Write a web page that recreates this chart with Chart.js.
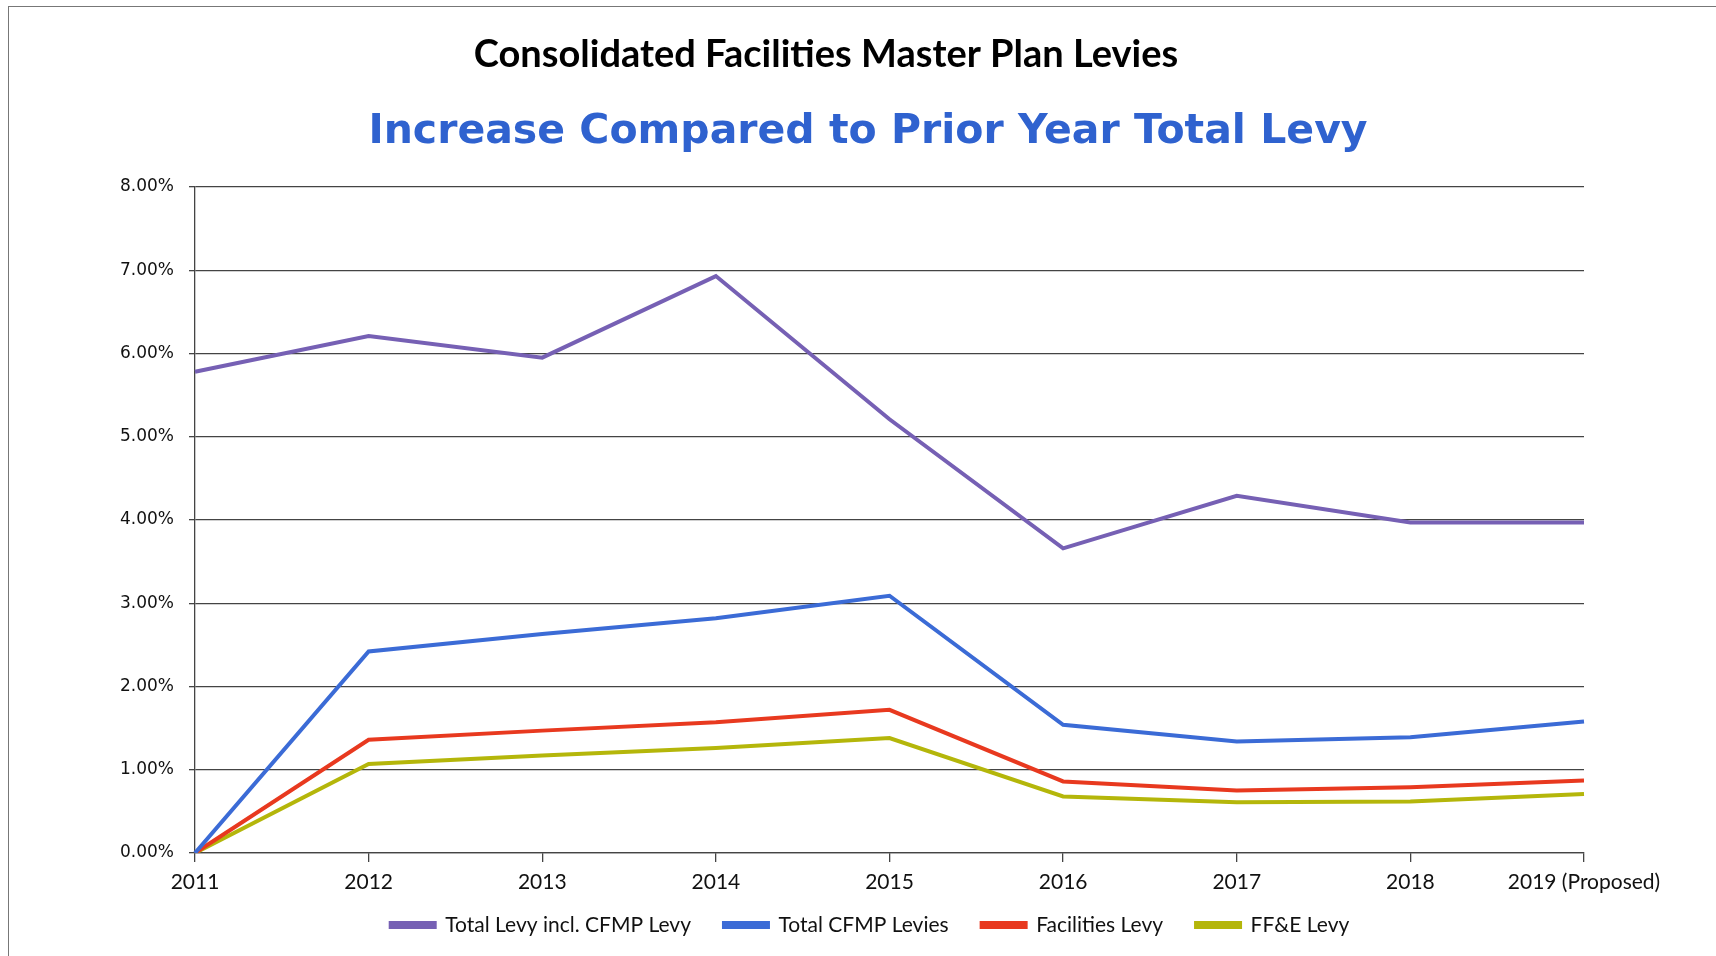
<!DOCTYPE html>
<html>
<head>
<meta charset="utf-8">
<script src="https://cdn.jsdelivr.net/npm/chart.js@4.4.1/dist/chart.umd.min.js"></script>
<style>
  html, body { margin: 0; padding: 0; background: #fff; }
  #wrap { position: relative; width: 1716px; height: 956px; overflow: hidden; }
  #frame { position: absolute; left: 8px; top: 6px; width: 1720px; height: 960px; border: 1.5px solid #777; box-sizing: border-box; pointer-events: none; }
  canvas { position: absolute; left: 0; top: 0; }
</style>
</head>
<body>
<div id="wrap">
  <canvas id="c" width="1716" height="956"></canvas>
  <div id="frame"></div>
</div>
<script>
const categories = ['2011', '2012', '2013', '2014', '2015', '2016', '2017', '2018', '2019 (Proposed)'];
const totalLevyInclCFMP = [5.78, 6.21, 5.95, 6.93, 5.21, 3.66, 4.29, 3.97, 3.97];
const totalCFMPLevies   = [0.00, 2.42, 2.63, 2.82, 3.09, 1.54, 1.34, 1.39, 1.58];
const facilitiesLevy    = [0.00, 1.36, 1.47, 1.57, 1.72, 0.86, 0.75, 0.79, 0.87];
const ffeLevy           = [0.00, 1.07, 1.17, 1.26, 1.38, 0.68, 0.61, 0.62, 0.71];
const seriesNames = ['Total Levy incl. CFMP Levy', 'Total CFMP Levies', 'Facilities Levy', 'FF&E Levy'];
const yTicks = [0, 1, 2, 3, 4, 5, 6, 7, 8];
const titleText = 'Consolidated Facilities Master Plan Levies';
const subtitleText = 'Increase Compared to Prior Year Total Levy';

const colors = ['#7660B4', '#3B6BD6', '#E8391F', '#B4B60A'];
const seriesData = [totalLevyInclCFMP, totalCFMPLevies, facilitiesLevy, ffeLevy];

const datasets = seriesNames.map((n, i) => ({
  label: n,
  data: seriesData[i],
  borderColor: colors[i],
  backgroundColor: colors[i],
  borderWidth: 4,
  pointRadius: 0,
  tension: 0,
  fill: false
}));

// Shift centred layout boxes (titles, legend) to the reference's positions,
// and let the x-axis labels extend below the (thin) x-axis box without clipping.
const boxShift = {
  id: 'boxShift',
  afterLayout(chart, args, opts) {
    const moveX = (box, cx) => {
      const w = box.right - box.left;
      box.left = cx - w / 2;
      box.right = box.left + w;
    };
    chart.boxes.forEach(b => {
      if (b === chart.legend) {
        moveX(b, opts.legendX);
        const h = b.bottom - b.top;
        b.top = opts.legendTop;
        b.bottom = b.top + h;
      }
      else if (b.options && b.options.text === titleText) moveX(b, opts.titleX);
      else if (b.options && b.options.text === subtitleText) moveX(b, opts.subtitleX);
    });
    const x = chart.scales.x;
    x.bottom = x.top + 50;
  }
};

new Chart(document.getElementById('c'), {
  type: 'line',
  data: { labels: categories, datasets },
  plugins: [boxShift],
  options: {
    responsive: false,
    animation: false,
    layout: { padding: { left: 0, right: 132, top: 0, bottom: 11.5 } },
    plugins: {
      boxShift: { titleX: 826, subtitleX: 868, legendX: 870, legendTop: 881.5 },
      title: {
        display: true,
        text: titleText,
        color: '#000',
        font: { family: 'Lato', weight: 'bold', size: 38 },
        padding: { top: 32, bottom: 0 }
      },
      subtitle: {
        display: true,
        text: subtitleText,
        color: '#2F62CF',
        font: { family: 'DejaVu Sans', weight: 'bold', size: 41 },
        padding: { top: 29.8, bottom: 30.4 }
      },
      legend: {
        position: 'bottom',
        labels: {
          color: '#111',
          font: { family: 'Lato', size: 21 },
          boxWidth: 44,
          boxHeight: 4,
          padding: 33
        }
      },
      tooltip: { enabled: false }
    },
    scales: {
      x: {
        offset: false,
        grid: { display: true, drawOnChartArea: false, drawTicks: true, tickLength: 9, color: '#444', lineWidth: 1.3 },
        border: { display: true, color: '#444', width: 1.3 },
        ticks: { color: '#111', font: { family: 'Lato', size: 21 }, padding: 8, maxRotation: 0, autoSkip: false },
        afterFit: s => { s.height = 27.5; }
      },
      y: {
        min: 0, max: 8,
        afterBuildTicks: s => { s.ticks = yTicks.map(v => ({ value: v })); },
        grid: { color: '#444', lineWidth: 1.3, tickLength: 6 },
        border: { display: true, color: '#444', width: 1.3 },
        ticks: {
          color: '#111',
          font: { family: 'DejaVu Sans', size: 17 },
          padding: 15,
          callback: v => v.toFixed(2) + '%'
        },
        afterFit: s => { s.width = 195; }
      }
    }
  }
});
</script>
</body>
</html>
